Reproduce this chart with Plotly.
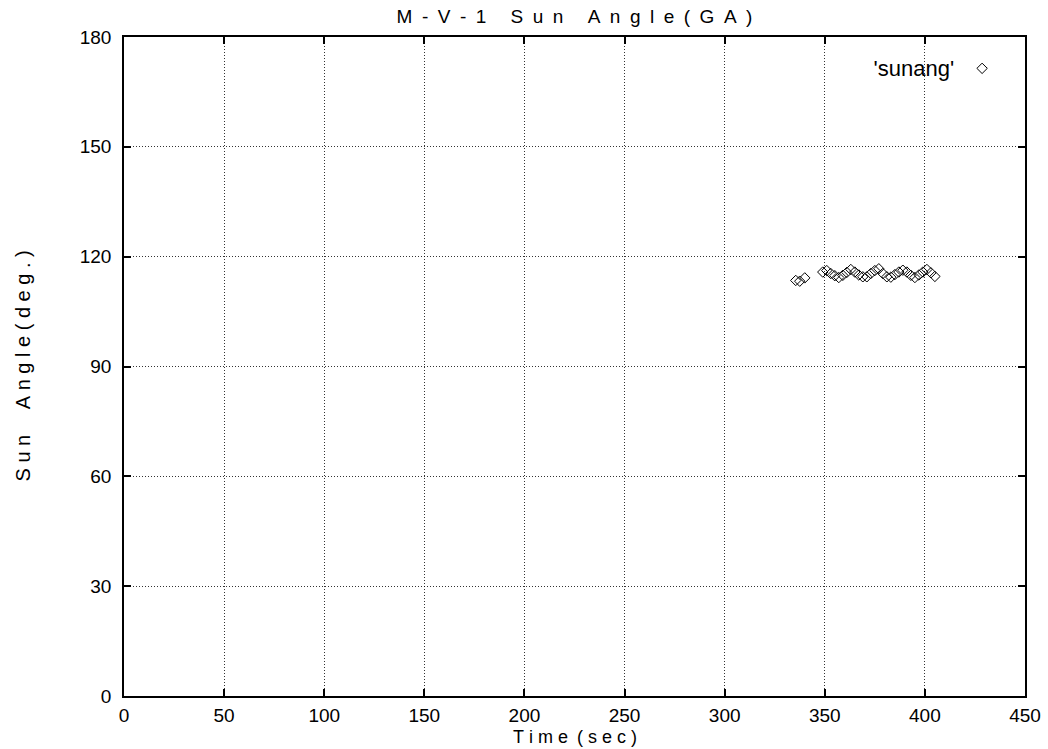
import plotly.graph_objects as go

# Data
time_sec = [335.5, 337.5, 340,
            349, 351, 353, 355, 357, 359, 361, 363, 365, 367, 369, 371, 373, 375,
            377, 379, 381, 383, 385, 387, 389, 391, 393, 395, 397, 399, 401, 403, 405]
sun_angle = [113.5, 113.3, 114.2,
             115.8, 116.2, 115.4, 114.8, 114.3, 114.9, 115.7, 116.5, 115.8, 115.0, 114.5, 114.5, 115.4, 116.2,
             116.7, 115.4, 114.5, 114.4, 115.1, 115.8, 116.3, 115.8, 114.9, 114.3, 115.0, 115.8, 116.5, 115.6, 114.6]

x_ticks = [0, 50, 100, 150, 200, 250, 300, 350, 400, 450]
y_ticks = [0, 30, 60, 90, 120, 150, 180]

EN = "\u2002"
EM = "\u2003"
NB = "\u00a0"

def spaced(s, sep):
    return sep.join(list(s))

title_text = ("M" + EN + "-" + EN + "V" + EN + "-" + EN + "1" + EM + NB
              + spaced("Sun", EN) + EM + NB + spaced("Angle", EN) + EN + spaced("(GA)", EN))
xlabel = spaced("Time", NB) + EN + spaced("(sec)", NB)
ylabel = spaced("Sun", NB) + EM + NB + spaced("Angle", NB) + NB + spaced("(deg.)", NB)

font = "Liberation Sans, Arial, Helvetica, sans-serif"

fig = go.Figure()
fig.add_trace(go.Scatter(
    x=time_sec, y=sun_angle, mode="markers", name="",
    marker=dict(symbol="diamond-open", size=8, color="black", line=dict(width=1, color="black")),
    showlegend=True,
))

axis_common = dict(
    showline=True, linecolor="black", linewidth=1.5, mirror="ticks",
    ticks="inside", ticklen=7, tickcolor="black", tickwidth=1.5,
    showgrid=True, gridcolor="rgba(0,0,0,0.8)", griddash="1px,2px", gridwidth=1,
    zeroline=False, automargin=False,
    tickfont=dict(family=font, size=19, color="black"),
)

fig.update_layout(
    width=1048, height=749,
    margin=dict(l=124, r=23, t=37, b=53),
    paper_bgcolor="white", plot_bgcolor="white",
    font=dict(family=font, color="black", size=19),
    title=dict(text=title_text, x=0.5, xanchor="center", xref="paper",
               y=0.978, yanchor="middle",
               font=dict(family=font, size=19, color="black")),
    xaxis=dict(range=[0, 450], tickvals=x_ticks, ticklabelstandoff=1, **axis_common),
    yaxis=dict(range=[0, 180], tickvals=y_ticks, ticklabelstandoff=7, **axis_common),
    legend=dict(x=0.9806, y=0.984, xanchor="right", yanchor="top",
                bgcolor="rgba(0,0,0,0)", itemwidth=30,
                title=dict(text="'sunang'", side="left", font=dict(family=font, size=22)),
                font=dict(family=font, size=22)),
    annotations=[
        dict(text=xlabel, xref="paper", yref="paper", x=0.5, y=(696 - 737) / 659,
             xanchor="center", yanchor="middle", showarrow=False, borderpad=0,
             font=dict(family=font, size=18, color="black")),
        dict(text=ylabel, xref="paper", yref="paper", x=(22 - 124) / 901, y=0.5,
             xanchor="center", yanchor="middle", textangle=-90, showarrow=False,
             font=dict(family=font, size=20, color="black")),
    ],
)

fig.write_html("out.html")
